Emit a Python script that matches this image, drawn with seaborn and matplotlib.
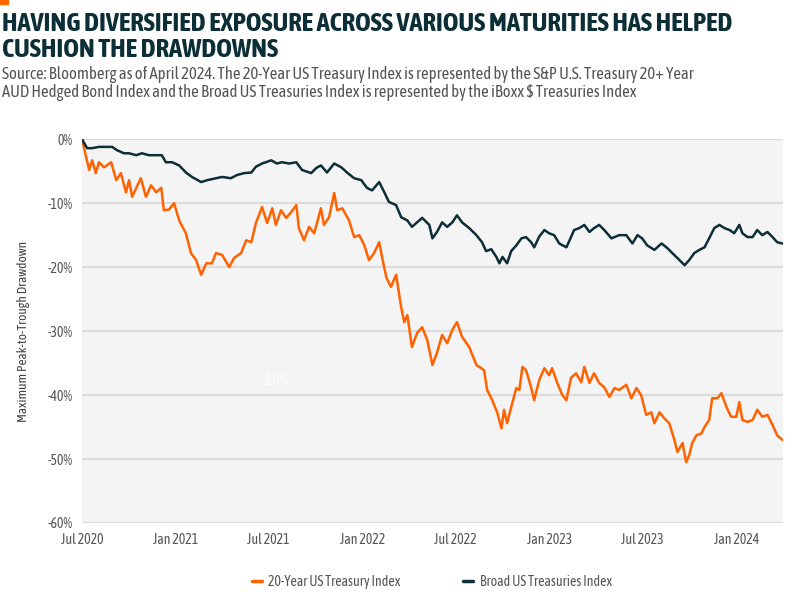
#!/usr/bin/env python3
"""Max peak-to-trough drawdown: 20-Year vs broad US Treasuries index."""

import pandas as pd
import matplotlib.pyplot as plt
import matplotlib.dates as mdates
import matplotlib.ticker as mticker
from matplotlib import font_manager
from matplotlib.patches import Rectangle
import seaborn as sns

ORANGE = "#ff6200"
TEAL = "#0c2e36"

# 20-Year US Treasury Index drawdown (%)
long_dates = [
    "2020-07-01", "2020-07-15", "2020-07-21", "2020-07-28", "2020-08-03", "2020-08-13",
    "2020-08-27", "2020-09-06", "2020-09-15", "2020-09-25", "2020-10-01", "2020-10-07",
    "2020-10-24", "2020-11-03", "2020-11-13", "2020-11-23", "2020-12-03", "2020-12-08",
    "2020-12-18", "2020-12-28", "2021-01-07", "2021-01-20", "2021-01-30", "2021-02-09",
    "2021-02-19", "2021-03-01", "2021-03-12", "2021-03-20", "2021-04-01", "2021-04-15",
    "2021-04-24", "2021-05-08", "2021-05-18", "2021-05-28", "2021-06-06", "2021-06-18",
    "2021-06-28", "2021-07-08", "2021-07-15", "2021-07-25", "2021-08-04", "2021-08-14",
    "2021-08-24", "2021-08-29", "2021-09-08", "2021-09-18", "2021-09-28", "2021-10-11",
    "2021-10-17", "2021-10-27", "2021-11-06", "2021-11-12", "2021-11-22", "2021-12-05",
    "2021-12-15", "2021-12-25", "2022-01-04", "2022-01-13", "2022-01-23", "2022-02-02",
    "2022-02-08", "2022-02-16", "2022-02-25", "2022-03-07", "2022-03-17", "2022-03-23",
    "2022-03-29", "2022-04-07", "2022-04-17", "2022-04-27", "2022-05-07", "2022-05-17",
    "2022-05-26", "2022-06-05", "2022-06-15", "2022-06-25", "2022-07-04", "2022-07-14",
    "2022-07-28", "2022-08-11", "2022-08-26", "2022-09-01", "2022-09-11", "2022-09-21",
    "2022-09-29", "2022-10-04", "2022-10-10", "2022-10-18", "2022-10-28", "2022-11-03",
    "2022-11-09", "2022-11-16", "2022-11-26", "2022-12-02", "2022-12-12", "2022-12-22",
    "2022-12-31", "2023-01-06", "2023-01-16", "2023-01-26", "2023-02-03", "2023-02-12",
    "2023-02-22", "2023-03-04", "2023-03-10", "2023-03-20", "2023-03-29", "2023-04-08",
    "2023-04-18", "2023-04-28", "2023-05-08", "2023-05-17", "2023-05-31", "2023-06-10",
    "2023-06-20", "2023-06-29", "2023-07-09", "2023-07-19", "2023-07-25", "2023-08-04",
    "2023-08-13", "2023-08-23", "2023-09-02", "2023-09-08", "2023-09-18", "2023-09-25",
    "2023-10-01", "2023-10-07", "2023-10-15", "2023-10-25", "2023-10-31", "2023-11-09",
    "2023-11-15", "2023-11-25", "2023-12-03", "2023-12-13", "2023-12-22", "2024-01-01",
    "2024-01-07", "2024-01-13", "2024-01-23", "2024-02-02", "2024-02-11", "2024-02-21",
    "2024-03-02", "2024-03-12", "2024-03-21", "2024-03-31",
]
long_vals = [
    0.0, -4.8, -3.3, -5.3, -3.6, -4.4,
    -3.6, -6.4, -5.3, -8.3, -6.4, -9.0,
    -6.1, -9.0, -7.2, -8.3, -7.6, -11.1,
    -11.0, -10.0, -12.7, -14.7, -17.8, -18.9,
    -21.2, -19.4, -19.4, -17.8, -18.1, -20.0,
    -18.6, -17.8, -15.8, -16.1, -13.1, -10.6,
    -13.1, -10.8, -13.4, -11.1, -12.3, -11.4,
    -10.3, -13.9, -15.8, -13.7, -14.7, -10.8,
    -13.4, -12.2, -8.4, -11.1, -10.8, -12.7,
    -15.3, -15.0, -16.6, -18.9, -17.8, -16.1,
    -18.6, -21.6, -23.1, -21.2, -26.3, -28.6,
    -27.5, -32.5, -30.3, -29.4, -31.4, -35.3,
    -33.4, -30.6, -31.9, -29.8, -28.6, -30.9,
    -32.5, -35.3, -36.1, -39.2, -40.8, -42.8,
    -45.2, -42.3, -44.4, -41.9, -38.9, -39.2,
    -35.6, -36.1, -38.8, -40.8, -37.6, -35.8,
    -36.9, -35.8, -38.1, -40.0, -40.8, -37.3,
    -36.6, -38.0, -35.6, -38.1, -36.6, -38.1,
    -38.8, -40.3, -38.9, -39.2, -38.4, -40.5,
    -38.9, -40.0, -43.1, -42.7, -44.4, -42.7,
    -43.6, -44.4, -47.0, -48.9, -47.5, -50.5,
    -49.4, -47.5, -46.3, -46.0, -45.0, -43.9,
    -40.5, -40.5, -39.7, -41.9, -43.4, -43.4,
    -41.1, -43.9, -44.2, -43.9, -42.3, -43.4,
    -43.1, -44.7, -46.3, -47.0,
]

# Broad US Treasuries Index drawdown (%)
broad_dates = [
    "2020-07-01", "2020-07-11", "2020-07-21", "2020-08-03", "2020-08-13", "2020-08-29",
    "2020-09-07", "2020-09-21", "2020-10-01", "2020-10-15", "2020-10-26", "2020-11-09",
    "2020-11-23", "2020-12-04", "2020-12-12", "2020-12-24", "2021-01-07", "2021-01-20",
    "2021-02-01", "2021-02-19", "2021-03-03", "2021-03-20", "2021-04-01", "2021-04-18",
    "2021-04-30", "2021-05-14", "2021-05-28", "2021-06-06", "2021-06-18", "2021-07-06",
    "2021-07-17", "2021-07-27", "2021-08-10", "2021-08-24", "2021-09-04", "2021-09-22",
    "2021-10-02", "2021-10-11", "2021-10-23", "2021-11-06", "2021-11-20", "2021-12-01",
    "2021-12-15", "2021-12-29", "2022-01-09", "2022-01-19", "2022-02-02", "2022-02-12",
    "2022-02-21", "2022-03-07", "2022-03-17", "2022-03-29", "2022-04-07", "2022-04-17",
    "2022-04-27", "2022-05-11", "2022-05-17", "2022-05-26", "2022-06-05", "2022-06-15",
    "2022-06-25", "2022-07-04", "2022-07-14", "2022-07-28", "2022-08-11", "2022-08-22",
    "2022-08-30", "2022-09-09", "2022-09-19", "2022-09-25", "2022-10-01", "2022-10-10",
    "2022-10-18", "2022-10-28", "2022-11-07", "2022-11-16", "2022-11-26", "2022-12-02",
    "2022-12-12", "2022-12-22", "2022-12-31", "2023-01-10", "2023-01-20", "2023-02-03",
    "2023-02-12", "2023-02-18", "2023-02-28", "2023-03-10", "2023-03-20", "2023-03-29",
    "2023-04-08", "2023-04-18", "2023-05-02", "2023-05-17", "2023-05-31", "2023-06-12",
    "2023-06-22", "2023-07-01", "2023-07-11", "2023-07-25", "2023-08-08", "2023-08-19",
    "2023-08-29", "2023-09-12", "2023-09-22", "2023-10-01", "2023-10-11", "2023-10-21",
    "2023-10-31", "2023-11-09", "2023-11-19", "2023-11-29", "2023-12-09", "2023-12-19",
    "2023-12-28", "2024-01-07", "2024-01-13", "2024-01-23", "2024-02-02", "2024-02-11",
    "2024-02-21", "2024-03-02", "2024-03-12", "2024-03-21", "2024-03-31",
]
broad_vals = [
    0.0, -1.4, -1.4, -1.2, -1.2, -1.2,
    -1.7, -2.2, -2.2, -2.5, -2.2, -2.5,
    -2.5, -2.5, -3.6, -3.6, -4.1, -5.2,
    -5.9, -6.7, -6.4, -6.1, -5.9, -6.1,
    -5.6, -5.3, -5.2, -4.3, -3.8, -3.3,
    -3.8, -3.6, -3.8, -3.6, -4.8, -5.3,
    -4.5, -4.1, -5.2, -3.8, -4.4, -5.2,
    -6.1, -6.4, -7.6, -8.0, -6.7, -8.3,
    -9.8, -10.3, -12.2, -12.7, -13.7, -13.0,
    -12.3, -13.4, -15.5, -14.5, -13.0, -13.7,
    -13.0, -11.9, -13.0, -13.9, -15.0, -16.1,
    -17.5, -17.2, -18.4, -19.4, -18.4, -19.4,
    -17.5, -16.6, -15.5, -15.3, -16.1, -16.9,
    -15.2, -14.2, -14.7, -15.0, -16.3, -16.9,
    -15.3, -14.2, -13.9, -13.4, -14.5, -13.9,
    -13.4, -14.2, -15.5, -15.0, -15.0, -16.3,
    -15.0, -15.5, -16.6, -17.3, -16.3, -17.0,
    -17.8, -18.9, -19.7, -18.9, -17.8, -17.3,
    -16.9, -15.5, -13.9, -13.4, -13.9, -14.2,
    -14.7, -13.4, -14.7, -15.3, -15.3, -14.2,
    -15.0, -14.5, -15.3, -16.1, -16.3,
]

SERIES = ["20-Year US Treasury Index", "Broad US Treasuries Index"]
TICK_DATES = ["2020-07-01", "2021-01-01", "2021-07-01", "2022-01-01",
              "2022-07-01", "2023-01-01", "2023-07-01", "2024-01-01"]

TITLE = "HAVING DIVERSIFIED EXPOSURE ACROSS VARIOUS MATURITIES HAS HELPED\nCUSHION THE DRAWDOWNS"
SUBTITLE = ("Source: Bloomberg as of April 2024. The 20-Year US Treasury Index is represented by the S&P U.S. Treasury 20+ Year\n"
            "AUD Hedged Bond Index and the Broad US Treasuries Index is represented by the iBoxx $ Treasuries Index")


def pick_font():
    """Use a narrow family if one happens to be installed, else Roboto.
    Prefer a narrow family that also ships a bold face."""
    narrow = [f for f in font_manager.fontManager.ttflist
              if "Narrow" in f.name or "Condensed" in f.name]
    if not narrow:
        return "Roboto", False
    bold = [f for f in narrow if f.weight in ("bold", 700, 600, "semibold", "demibold")]
    return (bold[0].name if bold else narrow[0].name), True


def build_frame():
    a = pd.DataFrame({"date": pd.to_datetime(long_dates), "dd": long_vals, "series": SERIES[0]})
    b = pd.DataFrame({"date": pd.to_datetime(broad_dates), "dd": broad_vals, "series": SERIES[1]})
    return pd.concat([a, b], ignore_index=True)


def main():
    sns.set_theme(style="white")
    family, narrow = pick_font()
    plt.rcParams["font.family"] = [family, "DejaVu Sans"]

    df = build_frame()
    fig = plt.figure(figsize=(8, 6.16), dpi=100)
    ax = fig.add_axes([0.1025, 0.151, 0.876, 0.623])
    ax.set_facecolor("#f4f4f4")

    sns.lineplot(data=df, x="date", y="dd", hue="series", hue_order=SERIES,
                 palette=[ORANGE, TEAL], linewidth=1.8, ax=ax, legend=False)

    ax.set_ylim(-60, 0)
    ax.set_xlim(pd.Timestamp("2020-07-01"), pd.Timestamp("2024-04-01"))
    ax.yaxis.set_major_locator(mticker.MultipleLocator(10))
    ax.yaxis.set_major_formatter(mticker.FuncFormatter(lambda v, _: f"{v:.0f}%"))
    ax.set_xticks(pd.to_datetime(TICK_DATES))
    ax.xaxis.set_major_formatter(mdates.DateFormatter("%b %Y"))
    ax.grid(axis="y", color="#dcdcdc", linewidth=1.6)
    ax.set_axisbelow(True)
    ax.tick_params(axis="both", length=0, labelsize=10, colors="#555555", pad=7)
    for s in ax.spines.values():
        s.set_visible(False)
    ax.set_xlabel("")
    ax.set_ylabel("Maximum Peak-to-Trough Drawdown", fontsize=9.5, color="#444444", labelpad=12)

    # stray white label in the source chart
    ax.text(pd.Timestamp("2021-07-17"), -37.8, "1.0%", color="white", fontsize=10,
            ha="center", va="center")

    # legend with short dashes
    handles = [plt.Line2D([], [], color=c, linewidth=2.5) for c in (ORANGE, TEAL)]
    fig.legend(handles, SERIES, loc="center", bbox_to_anchor=(0.54, 0.055), ncol=2,
               frameon=False, fontsize=10, handlelength=0.7, handletextpad=0.5,
               columnspacing=4.5, labelcolor="#555555")

    fig.patches.append(Rectangle((0, 0.993), 0.01, 0.007, transform=fig.transFigure,
                                 color=ORANGE))
    title_size, sub_size = (19.2, 12) if narrow else (14.2, 10.4)
    fig.text(0.002, 0.982, TITLE, ha="left", va="top", fontsize=title_size,
             fontweight="bold", color="#0c2e36", linespacing=1.05)
    fig.text(0.002, 0.893, SUBTITLE, ha="left", va="top", fontsize=sub_size,
             color="#555555", linespacing=1.12)

    sns.despine(left=True, bottom=True)
    fig.savefig("out.png", dpi=100)


if __name__ == "__main__":
    main()
